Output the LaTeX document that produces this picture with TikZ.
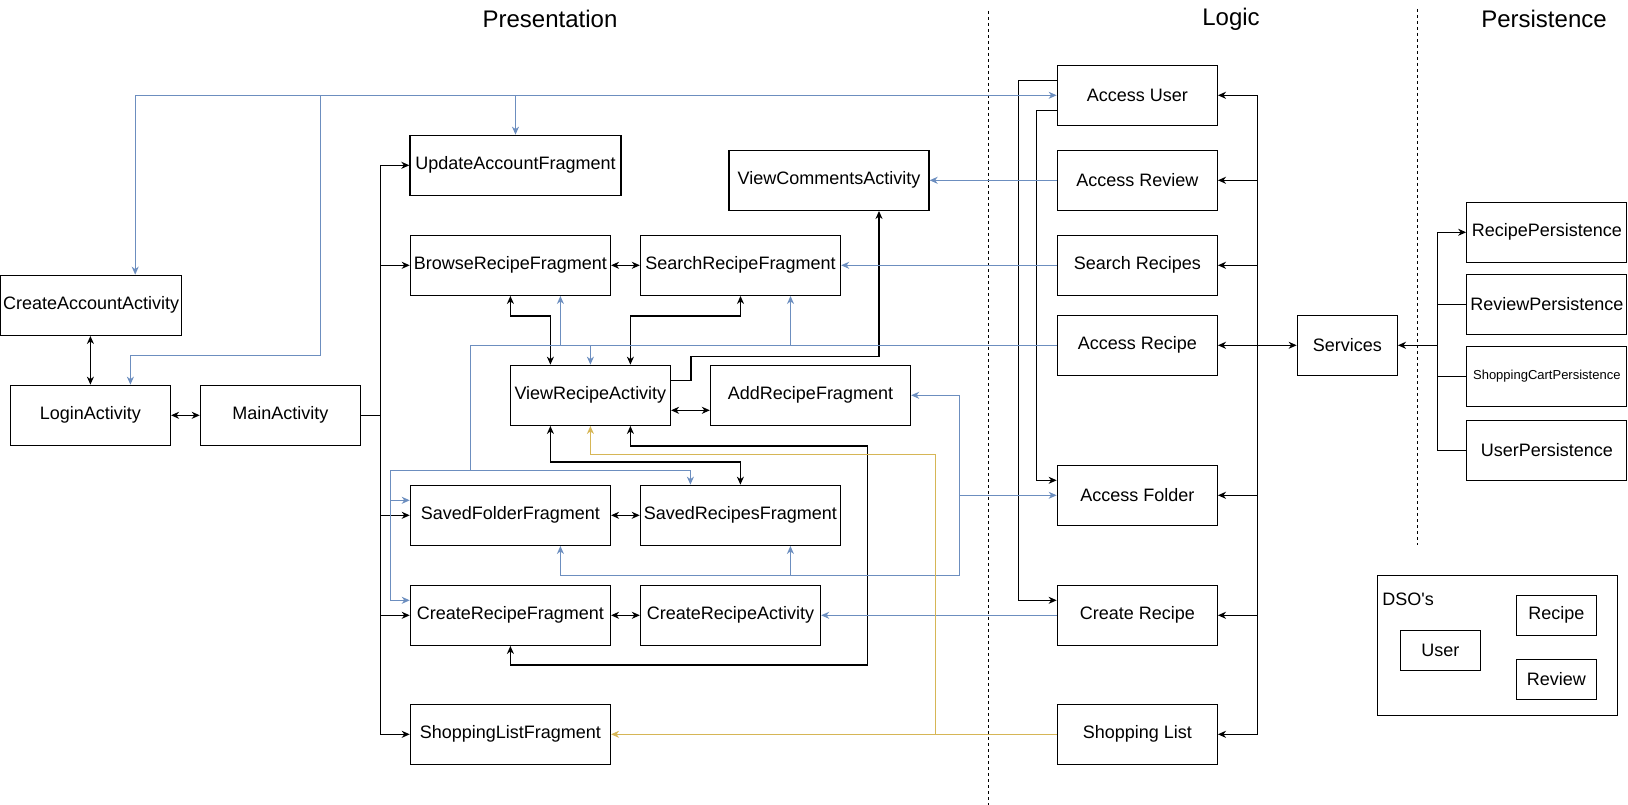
\documentclass[tikz,border=0pt]{standalone}
\usepackage{fontspec}
\setmainfont{Liberation Sans}
\usetikzlibrary{arrows.meta,calc}
\definecolor{linkblue}{HTML}{6C8EBF}
\definecolor{linkgold}{HTML}{D6B656}
\tikzset{
% Boxes for the classes, titles of the layers and the links between boxes
class box/.style={rectangle,draw,minimum height=60pt,inner sep=1pt},
small box/.style={rectangle,draw,minimum width=80pt,minimum height=40pt,inner sep=1pt},
layer title/.style={font=\fontsize{24}{28}\selectfont},
layer line/.style={line width=1.1pt,dash pattern=on 3pt off 3pt},
blue link/.style={line width=1.2pt,color=linkblue},
gold link/.style={line width=1.2pt,color=linkgold}
}

\begin{document}
\begin{tikzpicture}[x=1pt,y=-1pt,line width=1.3pt,font=\fontsize{18}{21}\selectfont,
    >={Stealth[length=8pt,width=7pt,inset=2.5pt]}]
        \useasboundingbox (0,0) rectangle (1628,805);
        % Layers
        \node[layer title] (presentation) at (550,19) {Presentation};
        \node[layer title] (logic) at (1231,19) {Logic};
        \node[layer title] (persistence) at (1544,19) {Persistence};
        \draw[layer line] (988.6,11) -- (988.6,805);
        \draw[layer line] (1417.3,9) -- (1417.3,545);
        % Presentation
        \node[class box,minimum width=181pt] (createacc) at (91.2,305.3) {CreateAccountActivity};
        \node[class box,minimum width=160pt] (login) at (90.4,415.3) {LoginActivity};
        \node[class box,minimum width=160pt] (mainact) at (280.4,415.3) {MainActivity};
        \node[class box,minimum width=211pt] (updacc) at (515.5,165.3) {UpdateAccountFragment};
        \node[class box,minimum width=200pt] (viewcom) at (829,180.3) {ViewCommentsActivity};
        \node[class box,minimum width=200pt] (browse) at (510.4,265.3) {BrowseRecipeFragment};
        \node[class box,minimum width=200pt] (search) at (740.5,265.3) {SearchRecipeFragment};
        \node[class box,minimum width=160pt] (viewrec) at (590.4,395.3) {ViewRecipeActivity};
        \node[class box,minimum width=200pt] (addrec) at (810.5,395.3) {AddRecipeFragment};
        \node[class box,minimum width=200pt] (savfold) at (510.4,515.3) {SavedFolderFragment};
        \node[class box,minimum width=200pt] (savrec) at (740.4,515.3) {SavedRecipesFragment};
        \node[class box,minimum width=200pt] (createfrag) at (510.4,615.3) {CreateRecipeFragment};
        \node[class box,minimum width=180pt] (createact) at (730.5,615.3) {CreateRecipeActivity};
        \node[class box,minimum width=200pt] (shopfrag) at (510.4,734.3) {ShoppingListFragment};
        % Logic
        \node[class box,minimum width=160pt] (accuser) at (1137.3,95.3) {Access User};
        \node[class box,minimum width=160pt] (accreview) at (1137.3,180.3) {Access Review};
        \node[class box,minimum width=160pt] (searchrec) at (1137.3,265.3) {Search Recipes};
        \node[class box,minimum width=160pt] (accrecipe) at (1137.3,345.3) {Access Recipe};
        \node[class box,minimum width=160pt] (accfolder) at (1137.3,495.3) {Access Folder};
        \node[class box,minimum width=160pt] (createrec) at (1137.3,615.3) {Create Recipe};
        \node[class box,minimum width=160pt] (shoplist) at (1137.3,734.3) {Shopping List};
        \node[class box,minimum width=100pt] (services) at (1347.3,345.3) {Services};
        % Persistence
        \node[class box,minimum width=160pt] (recpers) at (1546.8,232.3) {RecipePersistence};
        \node[class box,minimum width=160pt] (revpers) at (1546.8,304.3) {ReviewPersistence};
        \node[class box,minimum width=160pt,font=\fontsize{13}{15}\selectfont] (shoppers) at (1546.8,376.3) {ShoppingCartPersistence};
        \node[class box,minimum width=160pt] (userpers) at (1546.8,450.3) {UserPersistence};
        % DSO's
        \node[class box,minimum width=240pt,minimum height=140pt] (dso) at (1497.3,645.3) {};
        \node[anchor=west,inner sep=0pt] (dsolabel) at (1381.7,599.3) {DSO\textquotesingle s};
        \node[small box] (dsouser) at (1440.3,650.3) {User};
        \node[small box] (dsorecipe) at (1556.3,615.3) {Recipe};
        \node[small box] (dsoreview) at (1556.3,679.3) {Review};
        % Junctions
        \coordinate (mbus) at (380.7,415.3);
        \coordinate (lbus) at (1257.3,345.3);
        \coordinate (pbus) at (1437.7,345.3);
        \coordinate (ujoin) at (320.4,95.3);
        \coordinate (rjoin) at (470.2,345.3);
        \coordinate (rleft) at (390.2,470.3);
        \coordinate (fjoin) at (959.3,495.3);
        \coordinate (sjoin) at (935.2,734.3);
        % Black links
        \draw[<->] (login.north) -- (login.north |- createacc.south);
        \draw[<->] (login) -- (mainact);
        \draw (mainact.east) -- (mbus);
        \foreach \n in {updacc,browse,savfold,createfrag,shopfrag}
          \draw[->] (mbus) |- (\n.west);
        \draw[<->] (browse) -- (search);
        \draw[<->] (browse.south) -- ++(0,20) -| ([xshift=-40pt]viewrec.north);
        \draw[<->] (search.south) -- ++(0,20) -| ([xshift=40pt]viewrec.north);
        \draw[->] ([yshift=15pt]viewrec.east) -- ++(20,0) -- ++(0,-24) -| ([xshift=50pt]viewcom.south);
        \draw[<->] ([yshift=-15pt]viewrec.east) -- ([yshift=-15pt]addrec.west);
        \draw[<->] ([xshift=-40pt]viewrec.south) -- ++(0,36) -| (savrec.north);
        \draw[<->] ([xshift=40pt]viewrec.south) -- ++(0,20) -| (867.5,665) -| (createfrag.south);
        \draw[<->] (savfold) -- (savrec);
        \draw[<->] (createfrag) -- (createact);
        \draw[->] ([yshift=15pt]accuser.west) -- ++(-38,0) |- ([yshift=15pt]createrec.west);
        \draw[->] ([yshift=-15pt]accuser.west) -- ++(-20,0) |- ([yshift=15pt]accfolder.west);
        \draw[<->] (accrecipe) -- (services);
        \foreach \n in {accuser,accreview,searchrec,accfolder,createrec,shoplist}
          \draw[->] (lbus) |- (\n.east);
        \draw[->] (pbus) -- (services.east);
        \draw[->] (pbus) |- (recpers.west);
        \foreach \n in {revpers,shoppers,userpers}
          \draw (pbus) |- (\n.west);
        % Blue links
        \draw[blue link,->] (ujoin) -- (accuser.west);
        \draw[blue link,->] (ujoin) -| ([xshift=44pt]createacc.north);
        \draw[blue link,->] (ujoin) -- ++(0,260) -| ([xshift=40pt]login.north);
        \draw[blue link,->] (ujoin) -| (updacc.north);
        \draw[blue link,->] (accreview.west) -- (viewcom.east);
        \draw[blue link,->] (searchrec.west) -- (search.east);
        \draw[blue link] (accrecipe.west) -- (rjoin) |- (rleft);
        \draw[blue link,->] (rjoin) -| ([xshift=50pt]browse.south);
        \draw[blue link,->] (rjoin) -| (viewrec.north);
        \draw[blue link,->] (rjoin) -| ([xshift=50pt]search.south);
        \draw[blue link,->] (rleft) -| ([xshift=-50pt]savrec.north);
        \draw[blue link,->] (rleft) |- ([yshift=15pt]savfold.west);
        \draw[blue link,->] (rleft) |- ([yshift=15pt]createfrag.west);
        \draw[blue link,->] (fjoin) -- (accfolder.west);
        \draw[blue link,->] (fjoin) |- (addrec.east);
        \draw[blue link,->] (fjoin) -- ++(0,80) -| ([xshift=50pt]savrec.south);
        \draw[blue link,->] (fjoin) -- ++(0,80) -| ([xshift=50pt]savfold.south);
        \draw[blue link,->] (createrec.west) -- (createact.east);
        % Gold links
        \draw[gold link,->] (shoplist.west) -- (shopfrag.east);
        \draw[gold link,->] (sjoin) -- ++(0,-280) -| (viewrec.south);
      \end{tikzpicture}
\end{document}
